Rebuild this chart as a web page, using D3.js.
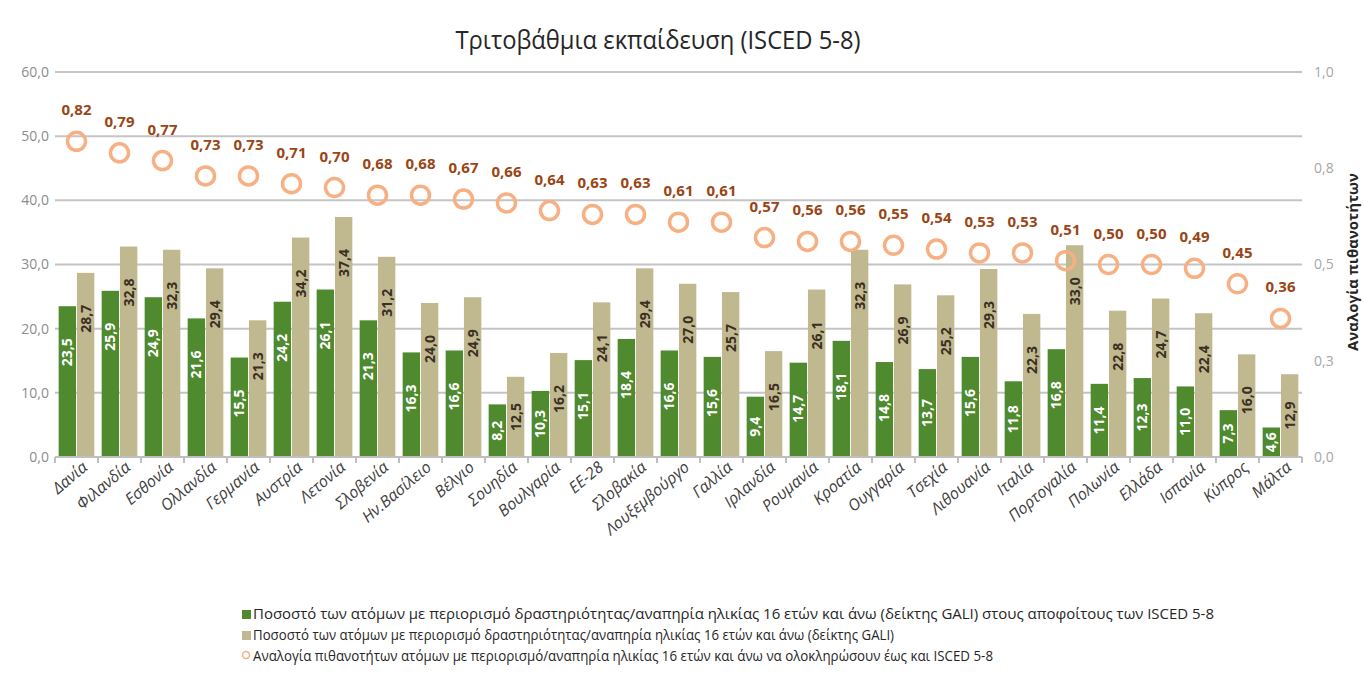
<!DOCTYPE html>
<html>
<head>
<meta charset="utf-8">
<script src="https://cdn.jsdelivr.net/npm/d3@7"></script>
<style>
  html, body { margin: 0; padding: 0; background: #ffffff; }
  svg { display: block; }
  text { font-family: "Open Sans", "Noto Sans", sans-serif; }
</style>
</head>
<body>
<svg id="chart" width="1364" height="686"></svg>
<script>
const categories = ["Δανία","Φιλανδία","Εσθονία","Ολλανδία","Γερμανία","Αυστρία","Λετονία","Σλοβενία","Ην.Βασίλειο","Βέλγιο","Σουηδία","Βουλγαρία","ΕΕ-28","Σλοβακία","Λουξεμβούργο","Γαλλία","Ιρλανδία","Ρουμανία","Κροατία","Ουγγαρία","Τσεχία","Λιθουανία","Ιταλία","Πορτογαλία","Πολωνία","Ελλάδα","Ισπανία","Κύπρος","Μάλτα"];
const graduatesShare = [23.5,25.9,24.9,21.6,15.5,24.2,26.1,21.3,16.3,16.6,8.2,10.3,15.1,18.4,16.6,15.6,9.4,14.7,18.1,14.8,13.7,15.6,11.8,16.8,11.4,12.3,11.0,7.3,4.6];
const totalShare = [28.7,32.8,32.3,29.4,21.3,34.2,37.4,31.2,24.0,24.9,12.5,16.2,24.1,29.4,27.0,25.7,16.5,26.1,32.3,26.9,25.2,29.3,22.3,33.0,22.8,24.7,22.4,16.0,12.9];
const oddsRatio = [0.82,0.79,0.77,0.73,0.73,0.71,0.70,0.68,0.68,0.67,0.66,0.64,0.63,0.63,0.61,0.61,0.57,0.56,0.56,0.55,0.54,0.53,0.53,0.51,0.50,0.50,0.49,0.45,0.36];
const leftTicks = [0,10,20,30,40,50,60];
const rightTicks = [0,0.25,0.5,0.75,1.0];
const rightTickLabels = ["0,0","0,3","0,5","0,8","1,0"];
const seriesNames = [
  "Ποσοστό  των ατόμων με περιορισμό δραστηριότητας/αναπηρία ηλικίας 16 ετών και άνω (δείκτης GALI) στους αποφοίτους των ISCED 5-8",
  "Ποσοστό  των ατόμων με περιορισμό δραστηριότητας/αναπηρία ηλικίας 16 ετών και άνω (δείκτης GALI)",
  "Αναλογία πιθανοτήτων ατόμων με περιορισμό/αναπηρία ηλικίας 16 ετών και άνω να ολοκληρώσουν έως και ISCED 5-8"
];
const title = "Τριτοβάθμια εκπαίδευση (ISCED 5-8)";
const rightTitle = "Αναλογία  πιθανοτήτων";

const fmt1 = v => d3.format(".1f")(v).replace(".", ",");
const fmt2 = v => d3.format(".2f")(v).replace(".", ",");

const svg = d3.select("#chart");
const L = 55, R = 1302, T = 72, B = 457;
const colGreen = "#4f8a2f", colTan = "#c0b88f", colCircle = "#f7b083", colOddsText = "#9a4516";

const x = d3.scaleBand().domain(categories).range([L, R]).padding(0);
const x1 = d3.scaleBand().domain(["g","t"]).range([0, x.bandwidth()]).paddingOuter(0.2).paddingInner(0.05);
const y = d3.scaleLinear().domain([0, 60]).range([B, T]);
const y2 = d3.scaleLinear().domain([0, 1]).range([B, T]);

// title
svg.append("text").attr("x", 658).attr("y", 49).attr("text-anchor", "middle")
  .attr("font-size", 25).attr("fill", "#262626")
  .attr("textLength", 405).attr("lengthAdjust", "spacingAndGlyphs").text(title);

// gridlines
svg.append("g").selectAll("line").data(leftTicks.filter(d => d > 0)).join("line")
  .attr("x1", L).attr("x2", R).attr("y1", d => y(d)).attr("y2", d => y(d))
  .attr("stroke", "#c4c4c4").attr("stroke-width", 2);

// left axis
const gl = svg.append("g").attr("transform", `translate(${L},0)`)
  .call(d3.axisLeft(y).tickValues(leftTicks).tickSize(0).tickPadding(6).tickFormat(fmt1));
gl.select(".domain").remove();
gl.selectAll("text").attr("font-size", 14).attr("fill", "#8c8c8c").attr("font-family", "'Open Sans', sans-serif");

// right axis
const gr = svg.append("g").attr("transform", `translate(${R},0)`)
  .call(d3.axisRight(y2).tickValues(rightTicks).tickSize(0).tickPadding(12).tickFormat((d, i) => rightTickLabels[i]));
gr.select(".domain").remove();
gr.selectAll("text").attr("font-size", 14).attr("fill", "#a6a6a6").attr("font-family", "'Open Sans', sans-serif");

// right title
svg.append("text").attr("transform", `translate(1358,262) rotate(-90)`).attr("text-anchor", "middle")
  .attr("font-size", 15).attr("font-weight", "bold").attr("fill", "#262626").text(rightTitle);

// bars
const gBars = svg.append("g");
const rows = categories.map((c, i) => ({c, g: graduatesShare[i], t: totalShare[i], o: oddsRatio[i]}));
const cat = gBars.selectAll("g").data(rows).join("g").attr("transform", d => `translate(${x(d.c)},0)`);
cat.append("rect").attr("x", x1("g")).attr("width", x1.bandwidth()).attr("y", d => y(d.g)).attr("height", d => B - y(d.g)).attr("fill", colGreen);
cat.append("rect").attr("x", x1("t")).attr("width", x1.bandwidth()).attr("y", d => y(d.t)).attr("height", d => B - y(d.t)).attr("fill", colTan);

function labelCenter(v) {
  const top = y(v);
  return top + Math.min(46, (B - top) / 2);
}
cat.append("text").attr("transform", d => `translate(${x1("g") + x1.bandwidth()/2},${labelCenter(d.g)}) rotate(-90)`)
  .attr("text-anchor", "middle").attr("dy", "0.35em").attr("font-size", 14).attr("font-weight", "bold")
  .attr("fill", "#ffffff").text(d => fmt1(d.g));
cat.append("text").attr("transform", d => `translate(${x1("t") + x1.bandwidth()/2},${labelCenter(d.t)}) rotate(-90)`)
  .attr("text-anchor", "middle").attr("dy", "0.35em").attr("font-size", 14).attr("font-weight", "bold")
  .attr("fill", "#3b2e22").text(d => fmt1(d.t));

// x axis line and ticks
const gx = svg.append("g").attr("transform", `translate(0,${B})`);
gx.append("line").attr("x1", L).attr("x2", R).attr("y1", 0).attr("y2", 0).attr("stroke", "#bfbfbf").attr("stroke-width", 2);
const bounds = categories.map(c => x(c)).concat([R]);
gx.selectAll("line.tk").data(bounds).join("line").attr("class", "tk")
  .attr("x1", d => d).attr("x2", d => d).attr("y1", 0).attr("y2", 6).attr("stroke", "#bfbfbf").attr("stroke-width", 2);

// x labels
svg.append("g").selectAll("text").data(categories).join("text")
  .attr("transform", d => `translate(${x(d) + x.bandwidth()/2 + 12},${469}) rotate(-40)`)
  .attr("text-anchor", "end").attr("font-size", 16).attr("font-style", "italic").attr("fill", "#404040")
  .text(d => d);

// odds circles
const gO = svg.append("g");
gO.selectAll("circle").data(rows).join("circle")
  .attr("cx", d => x(d.c) + x.bandwidth()/2).attr("cy", d => y2(d.o)).attr("r", 9)
  .attr("fill", "none").attr("stroke", colCircle).attr("stroke-width", 3.5);
gO.selectAll("text").data(rows).join("text")
  .attr("x", d => x(d.c) + x.bandwidth()/2).attr("y", d => y2(d.o) - 26)
  .attr("text-anchor", "middle").attr("font-size", 15).attr("font-weight", "bold").attr("fill", colOddsText)
  .text(d => fmt2(d.o));

// legend
const lg = svg.append("g");
const ly = [616, 637, 658];
const lw = [961, 641, 740];
lg.append("rect").attr("x", 242).attr("y", ly[0] - 6).attr("width", 9).attr("height", 9).attr("fill", colGreen);
lg.append("rect").attr("x", 242).attr("y", ly[1] - 6).attr("width", 9).attr("height", 9).attr("fill", colTan);
lg.append("circle").attr("cx", 246).attr("cy", ly[2] - 3).attr("r", 3.5).attr("fill", "none").attr("stroke", colCircle).attr("stroke-width", 1.5);
lg.selectAll("text").data(seriesNames).join("text")
  .attr("x", 253).attr("y", (d, i) => ly[i] + 3).attr("font-size", 14).attr("fill", "#262626")
  .attr("textLength", (d, i) => lw[i]).attr("lengthAdjust", "spacingAndGlyphs")
  .text(d => d);
</script>
</body>
</html>
